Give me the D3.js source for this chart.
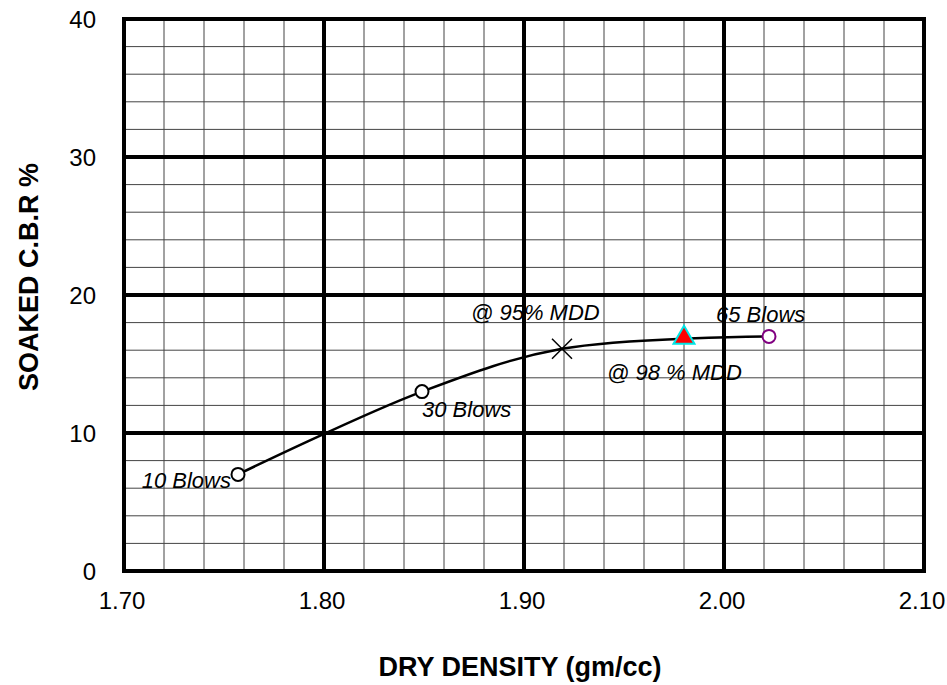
<!DOCTYPE html>
<html lang="en">
<head>
  <meta charset="UTF-8">
  <title>Soaked CBR vs Dry Density</title>
  <script src="https://d3js.org/d3.v7.min.js"></script>
  <style>
    body { margin: 0; background: #fff; }
    text { font-family: Arial, "Liberation Sans", sans-serif; fill: #000; }
  </style>
</head>
<body>
<div class="main"></div>
<script>
  // chart values
  const xTicks = [1.70, 1.80, 1.90, 2.00, 2.10];
  const yTicks = [0, 10, 20, 30, 40];
  const blowDensity = [1.757, 1.849, 2.0225];
  const blowCbr = [7.0, 13.0, 17.0];
  const blowLabels = ["10 Blows", "30 Blows", "65 Blows"];
  const curveDensity = [1.757, 1.849, 1.919, 2.0225];
  const curveCbr = [7.0, 13.0, 16.1, 17.0];
  const mdd95 = [1.919, 16.1];
  const mdd98 = [1.980, 16.9];

  let width = 947;
  let height = 685;
  let svg = d3.select(".main").append("svg").attr("width", width).attr("height", height).style("display", "block");

  let x = d3.scaleLinear().domain([1.70, 2.10]).range([124, 924]);
  let y = d3.scaleLinear().domain([0, 40]).range([571, 19]);

  // minor grid
  let minorX = d3.range(1.70, 2.1001, 0.02).map(d => +d.toFixed(2));
  let minorY = d3.range(0, 40.001, 2);
  svg.append("g").selectAll("line").data(minorX).join("line")
    .attr("x1", d => x(d)).attr("x2", d => x(d)).attr("y1", y(0)).attr("y2", y(40))
    .style("stroke", "#444").style("stroke-width", 1);
  svg.append("g").selectAll("line").data(minorY).join("line")
    .attr("x1", x(1.70)).attr("x2", x(2.10)).attr("y1", d => y(d)).attr("y2", d => y(d))
    .style("stroke", "#444").style("stroke-width", 1);

  // major grid
  svg.append("g").selectAll("line").data(xTicks).join("line")
    .attr("x1", d => x(d)).attr("x2", d => x(d)).attr("y1", y(0) + 2).attr("y2", y(40) - 2)
    .style("stroke", "#000").style("stroke-width", 4);
  svg.append("g").selectAll("line").data(yTicks).join("line")
    .attr("x1", x(1.70) - 2).attr("x2", x(2.10) + 2).attr("y1", d => y(d)).attr("y2", d => y(d))
    .style("stroke", "#000").style("stroke-width", 4);

  // tick labels
  svg.append("g").selectAll("text").data(xTicks).join("text")
    .attr("x", d => x(d) - 2).attr("y", 609).attr("text-anchor", "middle")
    .style("font-size", "24px").text(d => d3.format(".2f")(d));
  svg.append("g").selectAll("text").data(yTicks).join("text")
    .attr("x", 96).attr("y", d => y(d) + 8.5).attr("text-anchor", "end")
    .style("font-size", "24px").text(d => d);

  // axis titles
  svg.append("text").attr("x", 520).attr("y", 676).attr("text-anchor", "middle")
    .style("font-size", "27px").style("font-weight", "bold").text("DRY DENSITY (gm/cc)");
  svg.append("text").attr("transform", "translate(38,277) rotate(-90)").attr("text-anchor", "middle")
    .style("font-size", "27px").style("font-weight", "bold").text("SOAKED C.B.R %");

  // curve
  let line = d3.line().x(d => x(d[0])).y(d => y(d[1])).curve(d3.curveCatmullRom.alpha(0.5));
  svg.append("path").datum(curveDensity.map((d, i) => [d, curveCbr[i]]))
    .attr("d", line).style("fill", "none").style("stroke", "#000").style("stroke-width", 2.5);

  // blow markers
  svg.append("g").selectAll("circle").data(blowDensity).join("circle")
    .attr("cx", d => x(d)).attr("cy", (d, i) => y(blowCbr[i])).attr("r", 6.5)
    .style("fill", "#fff").style("stroke", (d, i) => i == 2 ? "#800080" : "#000").style("stroke-width", 2);

  // 95% MDD cross
  let cx = x(mdd95[0]), cy = y(mdd95[1]);
  svg.append("path").attr("d", `M${cx - 10},${cy - 10}L${cx + 10},${cy + 10}M${cx - 10},${cy + 10}L${cx + 10},${cy - 10}`)
    .style("stroke", "#000").style("stroke-width", 1.5);

  // 98% MDD triangle
  svg.append("path").attr("d", d3.symbol(d3.symbolTriangle, 190)())
    .attr("transform", `translate(${x(mdd98[0])},${y(mdd98[1])})`)
    .style("fill", "#ff0000").style("stroke", "#00e5e5").style("stroke-width", 2);

  // labels
  let labelStyle = s => s.style("font-size", "22px").style("font-style", "italic");
  svg.append("text").attr("x", x(blowDensity[0]) - 7).attr("y", y(blowCbr[0]) + 14).attr("text-anchor", "end").call(labelStyle).text(blowLabels[0]);
  svg.append("text").attr("x", x(blowDensity[1])).attr("y", y(blowCbr[1]) + 25).call(labelStyle).text(blowLabels[1]);
  svg.append("text").attr("x", x(blowDensity[2]) - 53).attr("y", y(blowCbr[2]) - 14).call(labelStyle).text(blowLabels[2]);
  svg.append("text").attr("x", cx - 91).attr("y", cy - 29).call(labelStyle).text("@ 95% MDD");
  svg.append("text").attr("x", x(mdd98[0]) - 77).attr("y", y(mdd98[1]) + 42).call(labelStyle).text("@ 98 % MDD");
</script>
</body>
</html>
